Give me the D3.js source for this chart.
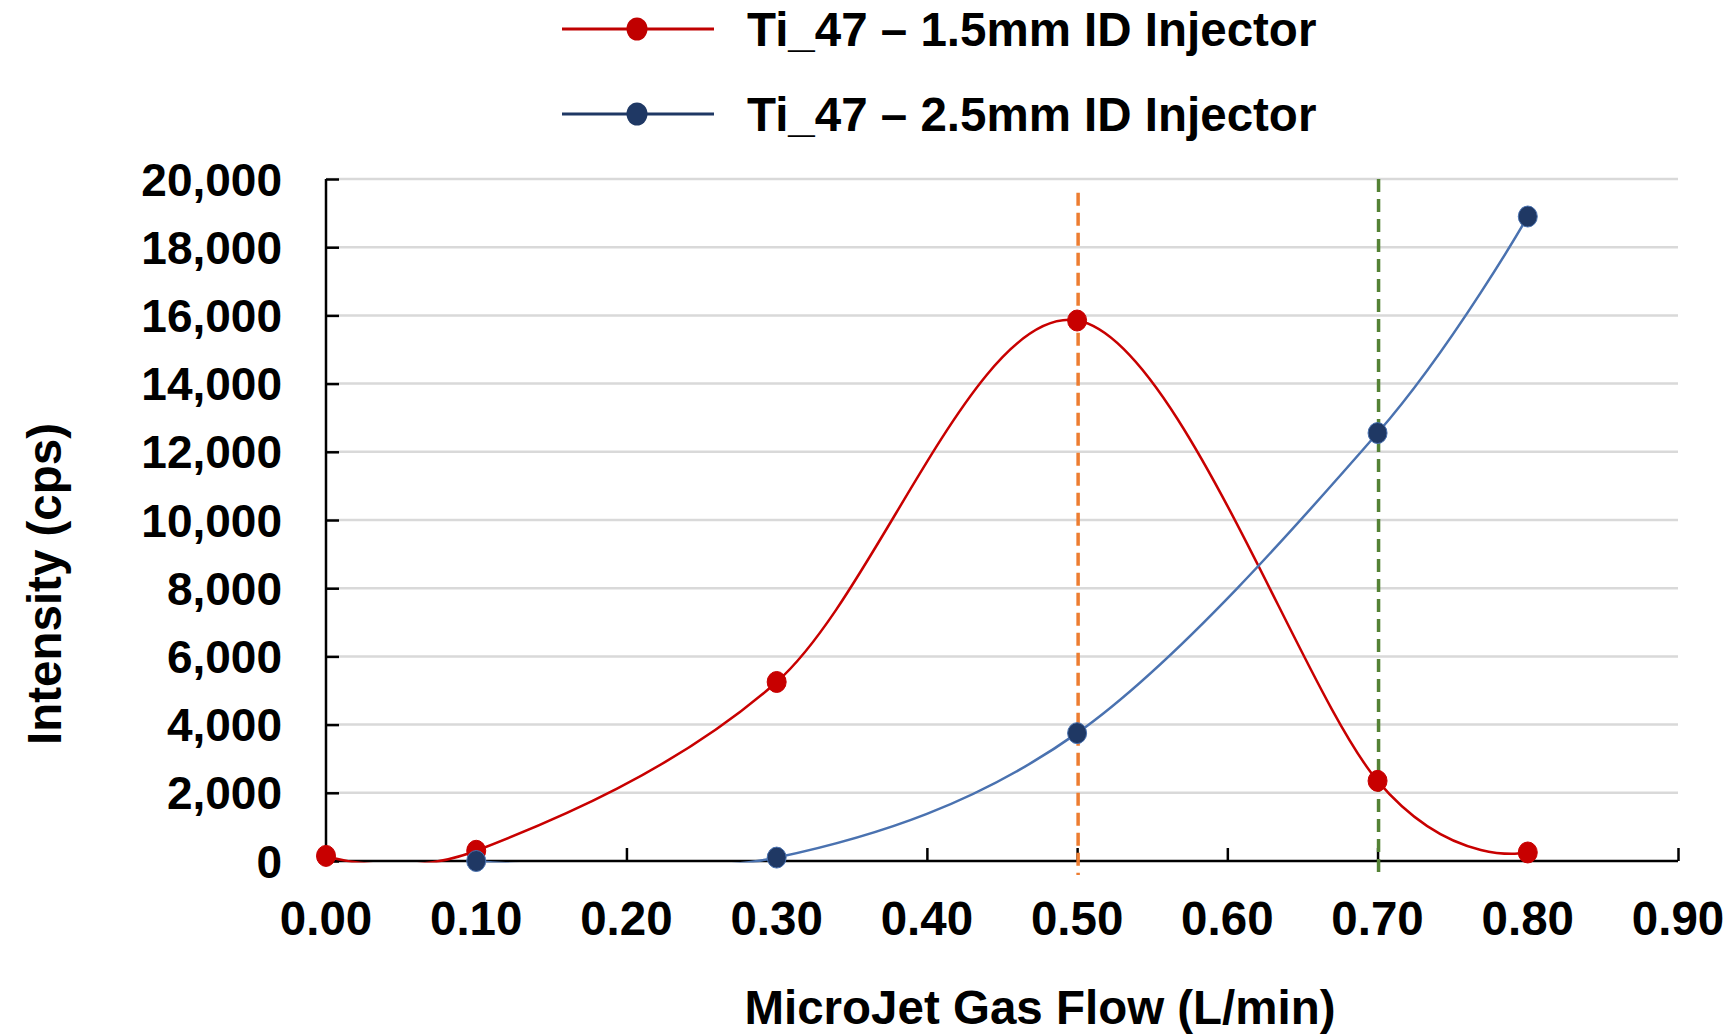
<!DOCTYPE html>
<html>
<head>
<meta charset="utf-8">
<script src="https://cdn.jsdelivr.net/npm/d3@7"></script>
<style>
  body { margin: 0; background: #fff; }
  text { font-family: "Liberation Sans", Arial, sans-serif; font-weight: bold; fill: #000; }
</style>
</head>
<body>
<svg id="chart" width="1735" height="1036"></svg>
<script>
// gas flow (L/min)
const flow = [0.00, 0.10, 0.30, 0.50, 0.70, 0.80];
const inj15 = [150, 300, 5250, 15850, 2350, 250];
const inj25 = [null, 0, 100, 3750, 12550, 18900];
const xTicks = [0, 0.1, 0.2, 0.3, 0.4, 0.5, 0.6, 0.7, 0.8, 0.9];
const yTicks = [0, 2000, 4000, 6000, 8000, 10000, 12000, 14000, 16000, 18000, 20000];
const markLines = [
  { x: 0.50, color: '#ED7D31', top: 19600 },
  { x: 0.70, color: '#548235', top: 20000 }
];
const seriesNames = ['Ti_47 \u2013 1.5mm ID Injector', 'Ti_47 \u2013 2.5mm ID Injector'];

const svg = d3.select('#chart');

const x = d3.scaleLinear().domain([0, 0.9]).range([326, 1678]);
const y = d3.scaleLinear().domain([0, 20000]).range([861, 179]);

// plot area clip, like the spreadsheet does
svg.append('clipPath')
  .attr('id', 'plotClip')
  .append('rect')
  .attr('x', x(0))
  .attr('y', y(20000) - 12)
  .attr('width', x(0.9) - x(0))
  .attr('height', y(0) - y(20000) + 13.5);

// gridlines
svg.append('g')
  .selectAll('line')
  .data(yTicks.filter(t => t > 0))
  .enter()
  .append('line')
  .attr('x1', x(0))
  .attr('x2', x(0.9))
  .attr('y1', t => y(t))
  .attr('y2', t => y(t))
  .attr('stroke', '#d9d9d9')
  .attr('stroke-width', 2.5);

// y axis
const yAxis = svg.append('g')
  .attr('transform', `translate(${x(0)},0)`)
  .call(d3.axisRight(y).tickValues(yTicks).tickSize(13).tickFormat(''));
yAxis.select('.domain').attr('stroke', '#000').attr('stroke-width', 2.5).attr('d', `M0,${y(0)}V${y(20000)}`);
yAxis.selectAll('.tick line').attr('stroke', '#000').attr('stroke-width', 2.5);

svg.append('g')
  .selectAll('text')
  .data(yTicks)
  .enter()
  .append('text')
  .attr('x', 282)
  .attr('y', t => y(t))
  .attr('dy', '0.36em')
  .attr('text-anchor', 'end')
  .attr('font-size', 46)
  .text(d3.format(','));

// x axis
const xAxis = svg.append('g')
  .attr('transform', `translate(0,${y(0)})`)
  .call(d3.axisTop(x).tickValues(xTicks).tickSize(13).tickFormat(''));
xAxis.select('.domain').attr('stroke', '#000').attr('stroke-width', 2.5).attr('d', `M${x(0)},0H${x(0.9)}`);
xAxis.selectAll('.tick line').attr('stroke', '#000').attr('stroke-width', 2.5);

svg.append('g')
  .selectAll('text')
  .data(xTicks)
  .enter()
  .append('text')
  .attr('x', t => x(t))
  .attr('y', 918)
  .attr('dy', '0.36em')
  .attr('text-anchor', 'middle')
  .attr('font-size', 47.5)
  .text(d3.format('.2f'));

// dashed reference lines
svg.append('g')
  .selectAll('line')
  .data(markLines)
  .enter()
  .append('line')
  .attr('x1', d => x(d.x) + 1)
  .attr('x2', d => x(d.x) + 1)
  .attr('y1', d => y(d.top))
  .attr('y2', y(0) + 14)
  .attr('stroke', d => d.color)
  .attr('stroke-width', 3.5)
  .attr('stroke-dasharray', '13 7');

// series
const series = [
  { name: seriesNames[0], values: inj15, line: '#C80000', fill: '#C80000', key: '#C00000' },
  { name: seriesNames[1], values: inj25, line: '#4A72B0', fill: '#1F3864', key: '#1F3864' }
];

const line = d3.line()
  .defined(d => d[1] !== null)
  .x(d => x(d[0]))
  .y(d => y(d[1]))
  .curve(d3.curveCardinal.tension(0));

series.forEach(s => {
  svg.append('path')
    .datum(flow.map((f, i) => [f, s.values[i]]))
    .attr('clip-path', 'url(#plotClip)')
    .attr('fill', 'none')
    .attr('stroke', s.line)
    .attr('stroke-width', 2.5)
    .attr('d', line);
});

series.forEach(s => {
  svg.append('g')
    .selectAll('ellipse')
    .data(flow.map((f, i) => [f, s.values[i]]).filter(d => d[1] !== null))
    .enter()
    .append('ellipse')
    .attr('cx', d => x(d[0]))
    .attr('cy', d => y(d[1]))
    .attr('rx', 9.5)
    .attr('ry', 10.5)
    .attr('fill', s.fill)
    .attr('stroke', s.line)
    .attr('stroke-width', 1);
});

// legend
const legend = svg.append('g')
  .selectAll('g')
  .data(series)
  .enter()
  .append('g')
  .attr('transform', (d, i) => `translate(0,${29 + i * 85})`);

legend.append('line')
  .attr('x1', 562)
  .attr('x2', 714)
  .attr('stroke', d => d.key)
  .attr('stroke-width', 3);

legend.append('ellipse')
  .attr('cx', 637)
  .attr('rx', 10.5)
  .attr('ry', 11.5)
  .attr('fill', d => d.key);

legend.append('text')
  .attr('x', 747)
  .attr('dy', '0.36em')
  .attr('font-size', 47.5)
  .text(d => d.name);

// axis titles
svg.append('text')
  .attr('x', 1040)
  .attr('y', 1007)
  .attr('dy', '0.36em')
  .attr('text-anchor', 'middle')
  .attr('font-size', 47.5)
  .text('MicroJet Gas Flow (L/min)');

svg.append('text')
  .attr('transform', 'translate(44,584) rotate(-90)')
  .attr('dy', '0.36em')
  .attr('text-anchor', 'middle')
  .attr('font-size', 47.5)
  .text('Intensity (cps)');
</script>
</body>
</html>
